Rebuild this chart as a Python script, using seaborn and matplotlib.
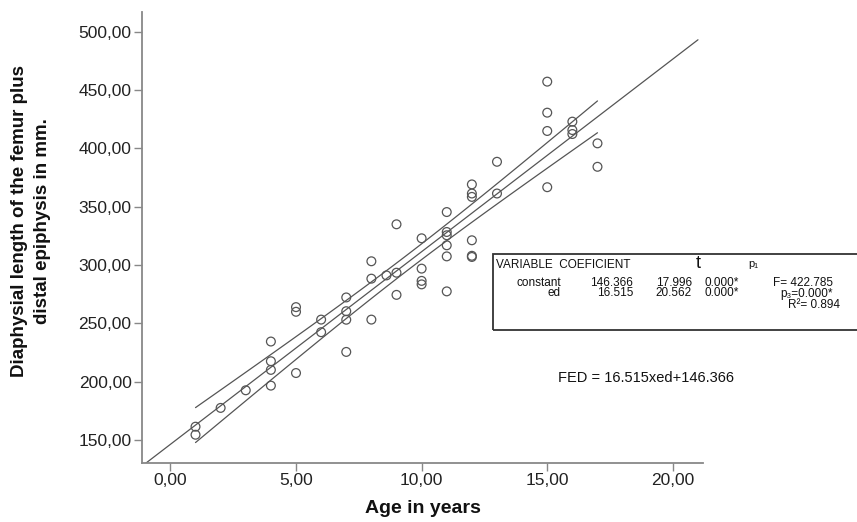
import numpy as np
import matplotlib
matplotlib.use("Agg")
import matplotlib.pyplot as plt
from matplotlib.patches import Rectangle
import seaborn as sns

# data
ages = [1, 1, 2, 3, 4, 4, 4, 4, 5, 5, 5, 6, 6, 7, 7, 7, 7, 8, 8, 8, 8.6,
        9, 9, 9, 10, 10, 10, 10, 11, 11, 11, 11, 11, 11, 12, 12, 12, 12, 12, 12,
        13, 13, 15, 15, 15, 15, 16, 16, 16, 17, 17]
lengths = [161.5, 154.6, 177.6, 192.7, 234.5, 217.6, 210.2, 196.7, 264, 260, 207.5,
           253.3, 242.5, 272.3, 260.5, 253.2, 225.6, 303.3, 288.4, 253.3, 291.2,
           335, 293.5, 274.5, 323, 297, 286.5, 283.5, 345.5, 328.4, 325.6, 317, 307.5, 277.5,
           369.2, 361.4, 358.5, 321.3, 308, 307, 388.6, 361.4, 457.3, 430.7, 415, 366.8,
           423, 415.8, 412.4, 404.4, 384.3]

intercept = 146.366
slope = 16.515
fit_range = [-1.5, 21.0]
band_range = [1, 17]

xticks = [0, 5, 10, 15, 20]
xticklabels = ["0,00", "5,00", "10,00", "15,00", "20,00"]
yticks = [150, 200, 250, 300, 350, 400, 450, 500]
yticklabels = ["150,00", "200,00", "250,00", "300,00", "350,00", "400,00", "450,00", "500,00"]

sns.set_style("ticks")
plt.rcParams["font.family"] = ["Liberation Sans", "DejaVu Sans"]

W, H = 857, 522
fig = plt.figure(figsize=(W / 100, H / 100), dpi=100)
ax = fig.add_axes([142 / W, 1 - 462.5 / H, (703 - 142) / W, (462.5 - 12) / H])

line_col = "#555555"

# fitted line
fx = np.array(fit_range)
sns.lineplot(x=fx, y=intercept + slope * fx, ax=ax, color=line_col, lw=0.9)

# 95% CI of the mean
x = np.array(ages, dtype=float)
y = np.array(lengths, dtype=float)
n = len(x)
resid = y - (intercept + slope * x)
s = np.sqrt(np.sum(resid ** 2) / (n - 2))
sxx = np.sum((x - x.mean()) ** 2)
bx = np.linspace(band_range[0], band_range[1], 60)
half = 2.01 * s * np.sqrt(1 / n + (bx - x.mean()) ** 2 / sxx)
by = intercept + slope * bx
sns.lineplot(x=bx, y=by + half, ax=ax, color=line_col, lw=0.9)
sns.lineplot(x=bx, y=by - half, ax=ax, color=line_col, lw=0.9)

sns.scatterplot(x=ages, y=lengths, ax=ax, marker="o", s=40,
                facecolor="none", edgecolor=line_col, linewidth=0.9, zorder=3)

ax.set_xlim(-1.13, 21.2)
ax.set_ylim(130.8, 517)
ax.set_xticks(xticks)
ax.set_xticklabels(xticklabels)
ax.set_yticks(yticks)
ax.set_yticklabels(yticklabels)
ax.tick_params(labelsize=12.5, length=6, width=1, color="#888888",
               labelcolor="#222222", pad=1.5)
for side in ["left", "bottom"]:
    ax.spines[side].set_color("#888888")
    ax.spines[side].set_linewidth(1.3)
sns.despine(ax=ax)

ax.set_xlabel("Age in years", fontsize=14, fontweight="bold", color="#111111")
ax.xaxis.set_label_coords(0.5, -0.083)
ax.set_ylabel("Diaphysial length of the femur plus\ndistal epiphysis in mm.",
              fontsize=13.5, fontweight="bold", color="#111111", linespacing=1.45)
ax.yaxis.set_label_coords(-0.162, 0.536)


def fp(px, py):
    return px / W, 1 - py / H


# regression table box
rect = Rectangle(fp(492.7, 330), 1.0, (330 - 254) / H, transform=fig.transFigure,
                 fill=False, edgecolor="#333333", lw=1.3, clip_on=False)
fig.add_artist(rect)

tk = dict(fontsize=8.5, color="#111111", va="center")
fig.text(*fp(496, 265), "VARIABLE  COEFICIENT", ha="left", **tk)
fig.text(*fp(698, 264), "t", ha="center", fontsize=13, color="#111111", va="center")
fig.text(*fp(753, 264), "p₁", ha="center", fontsize=8, color="#111111", va="center")
fig.text(*fp(561, 282.5), "constant", ha="right", **tk)
fig.text(*fp(633, 282.5), "146.366", ha="right", **tk)
fig.text(*fp(692, 282.5), "17.996", ha="right", **tk)
fig.text(*fp(739, 282.5), "0.000*", ha="right", **tk)
fig.text(*fp(773, 283.5), "F= 422.785", ha="left", **tk)
fig.text(*fp(561, 293), "ed", ha="right", **tk)
fig.text(*fp(633, 293), "16.515", ha="right", **tk)
fig.text(*fp(692, 293), "20.562", ha="right", **tk)
fig.text(*fp(739, 293), "0.000*", ha="right", **tk)
fig.text(*fp(780, 294), "p₃=0.000*", ha="left", **tk)
fig.text(*fp(788, 305), "R²= 0.894", ha="left", **tk)

fig.text(*fp(558, 378), "FED = 16.515xed+146.366", ha="left", va="center",
         fontsize=10.5, color="#111111")

fig.savefig("out.png", dpi=100)
